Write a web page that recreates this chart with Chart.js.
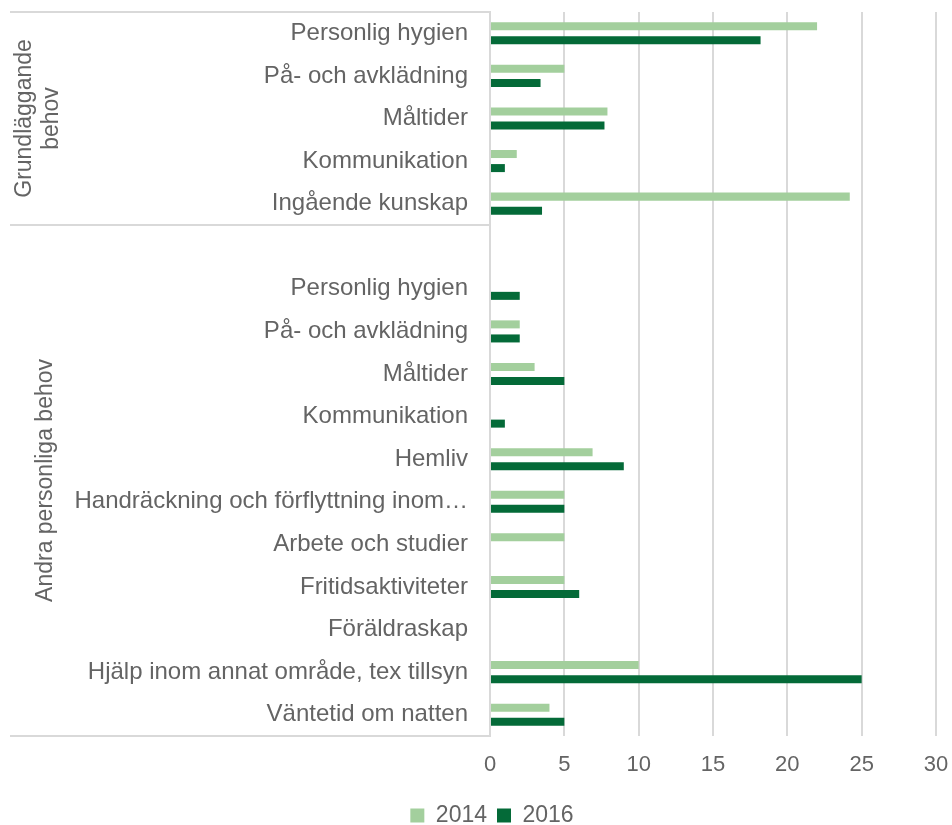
<!DOCTYPE html>
<html>
<head>
<meta charset="utf-8">
<script src="https://cdn.jsdelivr.net/npm/chart.js@4/dist/chart.umd.min.js"></script>
<style>
  html, body { margin: 0; padding: 0; background: #fff; }
  #wrap { width: 952px; height: 825px; }
</style>
</head>
<body>
<div id="wrap"><canvas id="behovChart"></canvas></div>
<script>
// categories (blank row separates the two groups)
const categories = [
    'Personlig hygien', 'På- och avklädning', 'Måltider', 'Kommunikation', 'Ingående kunskap',
    '',
    'Personlig hygien', 'På- och avklädning', 'Måltider', 'Kommunikation', 'Hemliv',
    'Handräckning och förflyttning inom…', 'Arbete och studier', 'Fritidsaktiviteter',
    'Föräldraskap', 'Hjälp inom annat område, tex tillsyn', 'Väntetid om natten'
];
const values2014 = [22, 5, 7.9, 1.8, 24.2, null, null, 2, 3, null, 6.9, 5, 5, 5, null, 10, 4];
const values2016 = [18.2, 3.4, 7.7, 1, 3.5, null, 2, 2, 5, 1, 9, 5, null, 6, null, 25, 5];
const groupNames = [['Grundläggande', 'behov'], ['Andra personliga behov']];
const groupStart = [0, 5];
const groupEnd = [4, 16];
const xTicks = [0, 5, 10, 15, 20, 25, 30];

const textColor = '#646464';
const lineColor = '#d9d9d9';
const fontFamily = '"Liberation Sans", Arial, sans-serif';
const padLeft = 48;

// draws the left category box lines and rotated group names
const groupAxisPlugin = {
    id: 'groupAxis',
    afterDraw(chart) {
        const ctx = chart.ctx;
        const area = chart.chartArea;
        const yScale = chart.scales.y;
        const leftEdge = 10;

        const bounds = [area.top];
        for (let g = 0; g < groupStart.length - 1; g++) {
            bounds.push((yScale.getPixelForValue(groupEnd[g]) + yScale.getPixelForValue(groupStart[g + 1])) / 2);
        }
        bounds.push(area.bottom);

        ctx.save();
        ctx.strokeStyle = lineColor;
        ctx.lineWidth = 2;
        bounds.forEach(y => {
            ctx.beginPath();
            ctx.moveTo(leftEdge, y);
            ctx.lineTo(area.left, y);
            ctx.stroke();
        });

        ctx.fillStyle = textColor;
        ctx.font = '23px ' + fontFamily;
        ctx.textAlign = 'center';
        ctx.textBaseline = 'middle';
        const centersX = [38, 46];
        const lineGap = 27;
        groupNames.forEach((lines, g) => {
            ctx.save();
            ctx.translate(centersX[g], (bounds[g] + bounds[g + 1]) / 2);
            ctx.rotate(-Math.PI / 2);
            lines.forEach((line, i) => {
                const offset = (i - (lines.length - 1) / 2) * lineGap;
                ctx.fillText(line, 0, offset);
            });
            ctx.restore();
        });
        ctx.restore();
    }
};

function initializeChart() {
    if (typeof Chart === 'undefined') {
        console.error('Chart.js not found!');
        return;
    }
    const ctx = document.getElementById('behovChart').getContext('2d');
    new Chart(ctx, {
        type: 'bar',
        data: {
            labels: categories,
            datasets: [
                {
                    label: '2014',
                    data: values2014,
                    backgroundColor: '#a3cf9d',
                    categoryPercentage: 0.66,
                    barPercentage: 0.57
                },
                {
                    label: '2016',
                    data: values2016,
                    backgroundColor: '#046a38',
                    categoryPercentage: 0.66,
                    barPercentage: 0.57
                }
            ]
        },
        options: {
            indexAxis: 'y',
            responsive: true,
            maintainAspectRatio: false,
            animation: false,
            layout: {
                padding: { top: 12, right: 16, bottom: 0, left: padLeft }
            },
            scales: {
                x: {
                    min: 0,
                    max: 30,
                    afterBuildTicks: scale => {
                        scale.ticks = xTicks.map(v => ({ value: v }));
                    },
                    afterFit: scale => {
                        scale.height = 58;
                    },
                    // invisible tick marks give the label gap without widening the side padding
                    grid: {
                        color: lineColor,
                        lineWidth: 2,
                        drawTicks: true,
                        tickLength: 16,
                        tickColor: 'rgba(0,0,0,0)'
                    },
                    border: { display: false },
                    ticks: {
                        color: textColor,
                        padding: 0,
                        font: { family: fontFamily, size: 22 }
                    }
                },
                y: {
                    afterFit: scale => {
                        scale.width = 490 - padLeft;
                    },
                    // tick marks hidden, tickLength only spaces the labels
                    grid: { display: false, drawTicks: true, tickLength: 22 },
                    border: { display: true, color: lineColor, width: 2 },
                    ticks: {
                        autoSkip: false,
                        color: textColor,
                        padding: 0,
                        font: { family: fontFamily, size: 24, lineHeight: 1 }
                    }
                }
            },
            plugins: {
                legend: {
                    position: 'bottom',
                    maxHeight: 31,
                    labels: {
                        boxWidth: 14,
                        boxHeight: 14,
                        padding: 10,
                        color: textColor,
                        font: { family: fontFamily, size: 23 }
                    }
                },
                tooltip: { enabled: false }
            }
        },
        plugins: [groupAxisPlugin]
    });
}

document.addEventListener('DOMContentLoaded', initializeChart);
</script>
</body>
</html>
